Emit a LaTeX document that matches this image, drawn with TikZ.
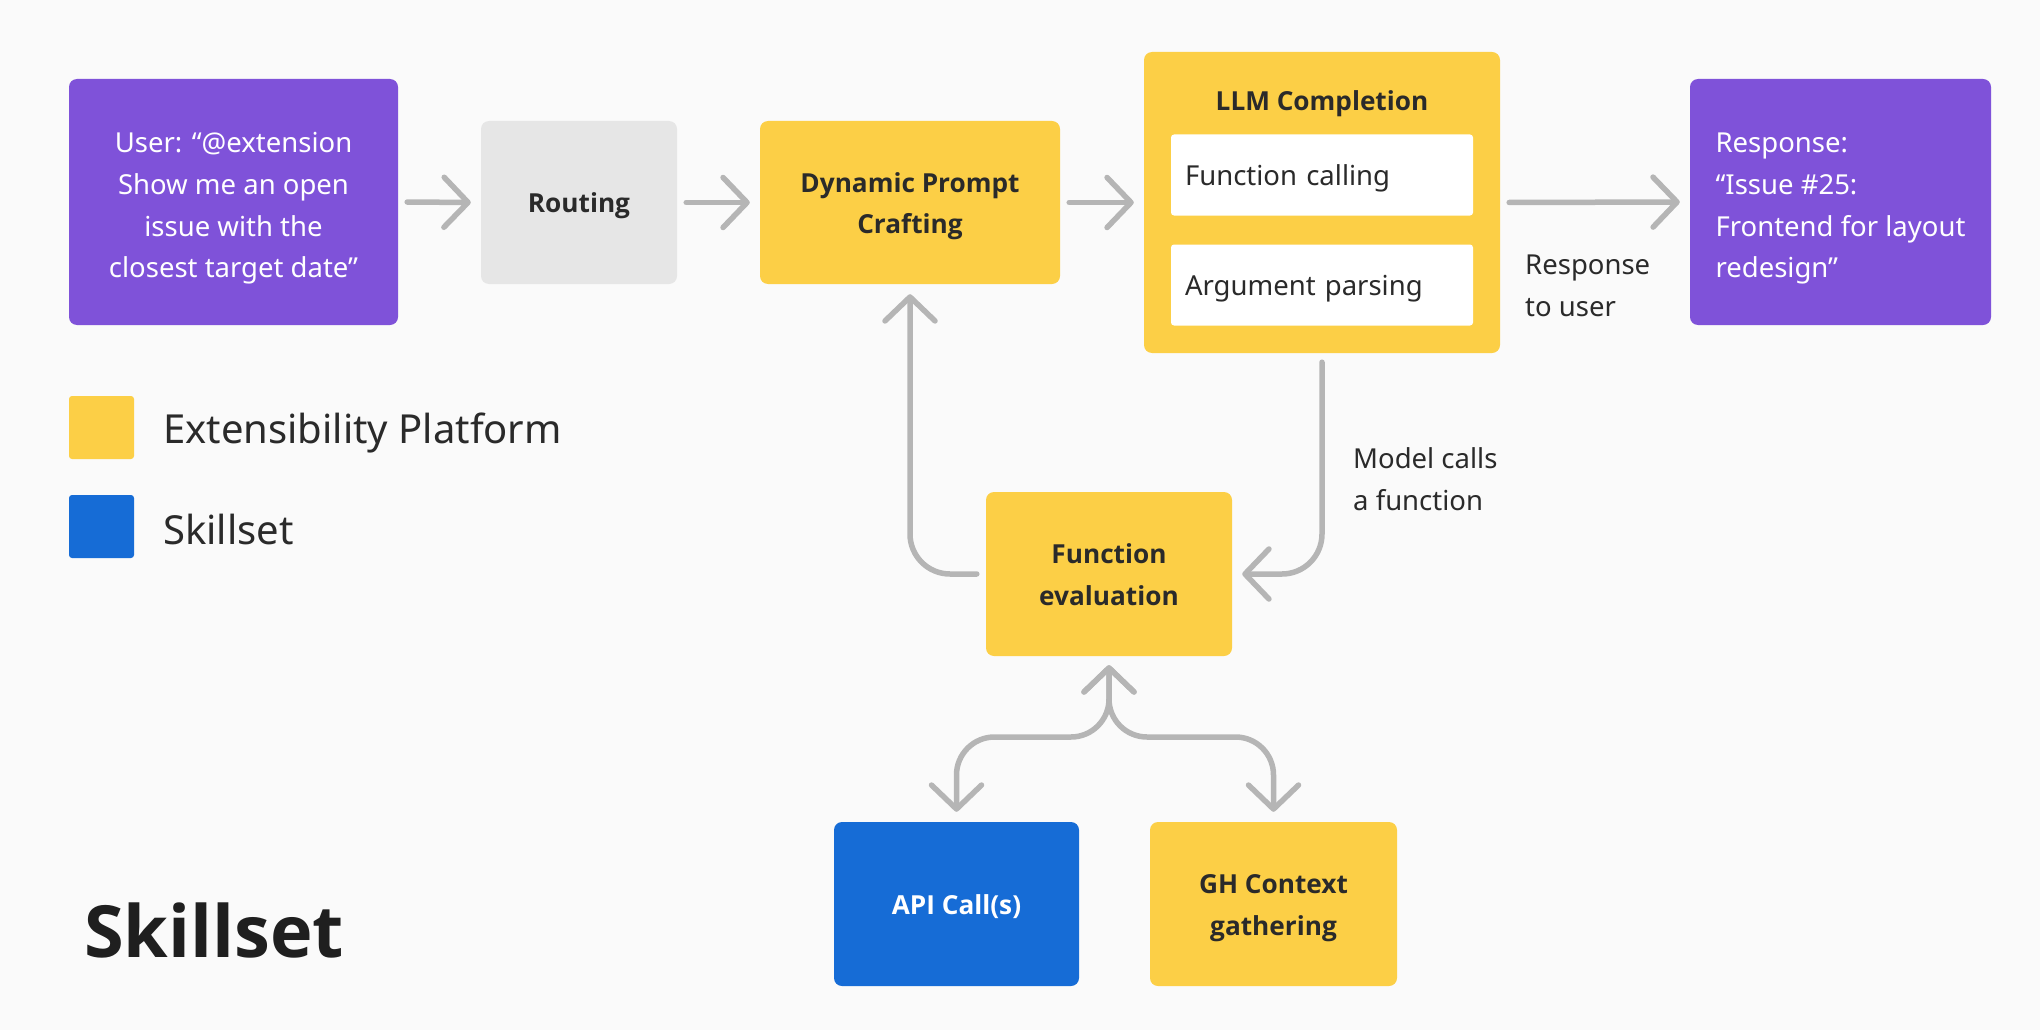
\documentclass[tikz,border=0pt]{standalone}
\usepackage{fontspec}
\IfFontExistsTF{Open Sans SemiBold}{\setmainfont{Noto Sans}[BoldFont={Open Sans SemiBold}]}
{\IfFontExistsTF{Open Sans Bold}{\setmainfont{Noto Sans}[BoldFont={Open Sans Bold}]}
{\IfFontExistsTF{Lato Bold}{\setmainfont{Noto Sans}[BoldFont={Lato Bold}]}
{\setmainfont{Noto Sans}[BoldFont={DejaVu Sans Bold}]}}}
\usetikzlibrary{arrows.meta}
\definecolor{bg}{HTML}{FAFAFA}
\definecolor{purp}{HTML}{7F52D9}
\definecolor{yel}{HTML}{FCCF46}
\definecolor{blu}{HTML}{166CD6}
\definecolor{gry}{HTML}{E6E6E6}
\definecolor{arr}{HTML}{B5B5B5}
\definecolor{ink}{HTML}{2A2A2A}
\newcommand\tstrut{\rule[-10.4pt]{0pt}{41.4pt}}
\newcommand\tstruttall{\rule{0pt}{37pt}}
\newcommand\bfont{\fontsize{26.2}{41.6}\selectfont\bfseries}
\begin{document}
\begin{tikzpicture}[x=1pt,y=-1pt,
  box/.style={rounded corners=8pt, inner sep=0pt, align=center,
    font=\fontsize{27.5}{41.6}\selectfont,
    execute at begin node=\tstrut, execute at end node=\tstrut},
  ybox/.style={box, fill=yel, text=ink, font=\bfont},
  pbox/.style={box, fill=purp, text=white},
  wbox/.style={rounded corners=3pt, fill=white, text=ink, inner xsep=14pt, inner ysep=0pt,
    text width=274pt, align=left, minimum height=81pt, font=\fontsize{27.5}{41.6}\selectfont,
    execute at begin node=\tstrut, execute at end node=\tstrut},
  lbl/.style={text=ink, align=left, anchor=west, inner sep=0pt, font=\fontsize{27.5}{41.6}\selectfont},
  conn/.style={draw=arr, line width=5.5pt, line cap=round, line join=round,
    -{Straight Barb[length=24pt,width=50pt,round]}, shorten >=10pt, shorten <=9pt},
  conn2/.style={draw=arr, line width=5.5pt, line cap=round, line join=round,
    {Straight Barb[length=24pt,width=50pt,round]}-{Straight Barb[length=24pt,width=50pt,round]},
    shorten >=9pt, shorten <=10pt, rounded corners=38pt},
]
\fill[bg] (0,0) rectangle (2040,1030);

% main row
\node[pbox, minimum width=329pt, minimum height=246pt] (user) at (233.5,202)
  {\tstruttall User: “@extension\\Show me an open\\issue with the\\closest target date”\tstrut};
\node[box, fill=gry, text=ink, font=\bfont,
  minimum width=196pt, minimum height=163pt] (route) at (579,202.5) {Routing};
\node[ybox, minimum width=300pt, minimum height=163pt] (dpc) at (910,202.5)
  {\tstrut Dynamic Prompt\\Crafting\tstrut};
\node[ybox, minimum width=356pt, minimum height=301pt] (llm) at (1322,202.5) {};
\node[text=ink, font=\bfont, inner sep=0pt,
  execute at begin node=\tstrut] (llmt) at (1322,100) {LLM Completion};
\node[wbox] (fc) at (1322,175) {Function calling};
\node[wbox] (ap) at (1322,285) {Argument parsing};
\node[pbox, minimum width=301pt, minimum height=246pt, align=left] (resp) at (1840.5,202)
  {\tstruttall Response:\\“Issue \#25:\\Frontend for layout\\redesign”\tstrut};

% lower
\node[ybox, minimum width=246pt, minimum height=164pt] (fe) at (1109,574) {\tstrut Function\\evaluation\tstrut};
\node[box, fill=blu, text=white, font=\bfont,
  minimum width=245pt, minimum height=164pt] (api) at (956.5,904) {API Call(s)};
\node[ybox, minimum width=247pt, minimum height=164pt] (gh) at (1273.5,904) {\tstrut GH Context\\gathering\tstrut};

% legend
\node[fill=yel, rounded corners=3pt, minimum width=65pt, minimum height=63pt, inner sep=0pt] (leg1) at (101.5,427.5) {};
\node[fill=blu, rounded corners=3pt, minimum width=65pt, minimum height=63pt, inner sep=0pt] (leg2) at (101.5,526.5) {};
\node[lbl, font=\fontsize{40}{48}\selectfont] (leg1t) at (163,433) {Extensibility Platform};
\node[lbl, font=\fontsize{40}{48}\selectfont] (leg2t) at (163,529) {Skillset};
\node[lbl, text=black!88, font=\fontsize{72}{80}\selectfont\bfseries] (title) at (84,930) {Skillset};

% labels
\node[lbl] (rtu) at (1525,286) {Response\\to user};
\node[lbl] (mcf) at (1353,479) {Model calls\\a function};

% connectors
\draw[conn] (user.east) -- (route.west);
\draw[conn] (route.east) -- (dpc.west);
\draw[conn] (dpc.east) -- (llm.west);
\draw[conn] (llm.east) -- (resp.west);
\draw[conn, rounded corners=40pt] (llm.south) |- (fe.east);
\draw[conn, rounded corners=40pt] (fe.west) -| (dpc.south);
\coordinate (fork) at (1109,737);
\draw[conn2] (api.north) |- (fork) -- (fe.south);
\draw[conn2] (gh.north) |- (fork) -- (fe.south);
\end{tikzpicture}
\end{document}
